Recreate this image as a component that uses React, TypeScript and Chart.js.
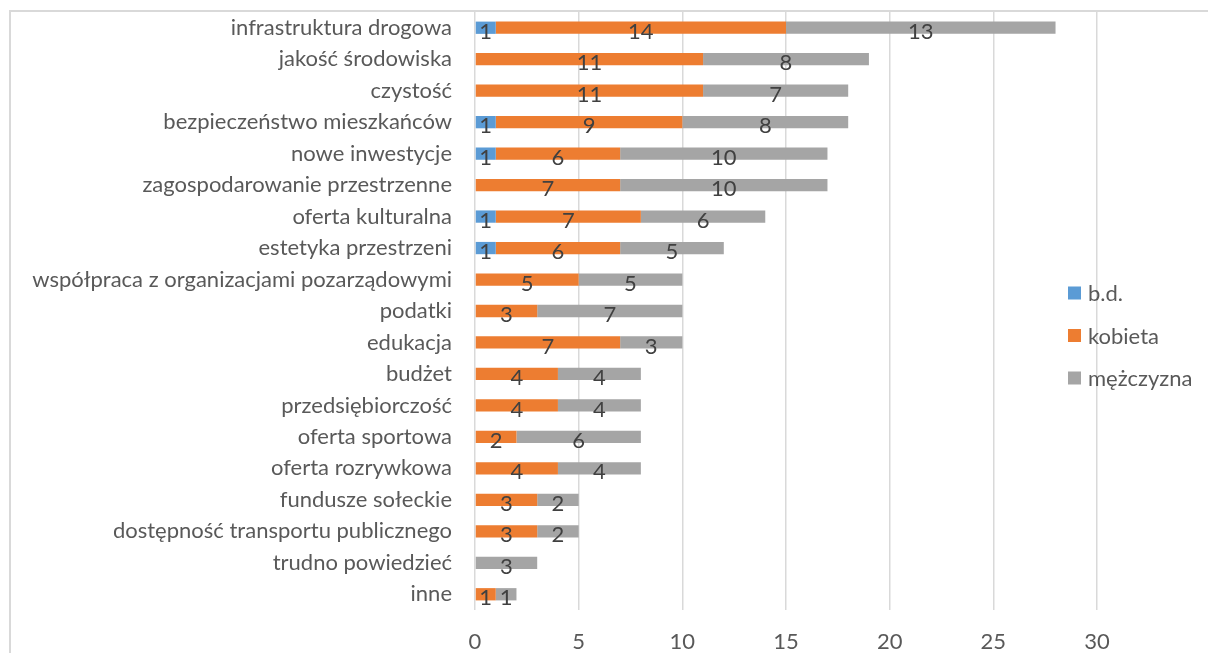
import React, { useEffect, useRef } from "react";
import { Chart, registerables } from "chart.js";
Chart.register(...registerables);

const categories = [
  "infrastruktura drogowa",
  "jakość środowiska",
  "czystość",
  "bezpieczeństwo mieszkańców",
  "nowe inwestycje",
  "zagospodarowanie przestrzenne",
  "oferta kulturalna",
  "estetyka przestrzeni",
  "współpraca z organizacjami pozarządowymi",
  "podatki",
  "edukacja",
  "budżet",
  "przedsiębiorczość",
  "oferta sportowa",
  "oferta rozrywkowa",
  "fundusze sołeckie",
  "dostępność transportu publicznego",
  "trudno powiedzieć",
  "inne",
];
const bdValues = [1, 0, 0, 1, 1, 0, 1, 1, 0, 0, 0, 0, 0, 0, 0, 0, 0, 0, 0];
const kobietaValues = [14, 11, 11, 9, 6, 7, 7, 6, 5, 3, 7, 4, 4, 2, 4, 3, 3, 0, 1];
const mezczyznaValues = [13, 8, 7, 8, 10, 10, 6, 5, 5, 7, 3, 4, 4, 6, 4, 2, 2, 3, 1];
const seriesNames = ["b.d.", "kobieta", "mężczyzna"];
const seriesColors = ["#5B9BD5", "#ED7D31", "#A5A5A5"];
const xMin = 0;
const xMax = 30;
const xStep = 5;

const FONT = "Lato";
const FONT_SIZE = 22;

const labelPlugin = {
  id: "barLabels",
  afterDatasetsDraw(chart: any) {
    const ctx = chart.ctx;
    ctx.save();
    ctx.font = `${FONT_SIZE}px ${FONT}`;
    ctx.fillStyle = "#404040";
    ctx.textAlign = "center";
    ctx.textBaseline = "middle";
    chart.data.datasets.forEach((ds: any, di: number) => {
      const meta = chart.getDatasetMeta(di);
      meta.data.forEach((el: any, i: number) => {
        const v = ds.data[i];
        if (!v) return;
        const p = el.getProps(["x", "base", "y"], true);
        ctx.fillText(String(v), (p.x + p.base) / 2, p.y + 4);
      });
    });
    ctx.restore();
  },
};

const legendPlugin = {
  id: "sideLegend",
  afterDraw(chart: any) {
    const ctx = chart.ctx;
    const x0 = 1068;
    const y0 = 293;
    const gap = 42.5;
    const sq = 13;
    ctx.save();
    ctx.font = `${FONT_SIZE}px ${FONT}`;
    ctx.textAlign = "left";
    ctx.textBaseline = "middle";
    chart.data.datasets.forEach((ds: any, i: number) => {
      const y = y0 + i * gap;
      ctx.fillStyle = ds.backgroundColor;
      ctx.fillRect(x0, y - sq / 2, sq, sq);
      ctx.fillStyle = "#595959";
      ctx.fillText(ds.label, x0 + 20, y + 1);
    });
    ctx.restore();
  },
};

export default function App() {
  const ref = useRef<HTMLCanvasElement>(null);
  useEffect(() => {
    if (!ref.current) return;
    const values = [bdValues, kobietaValues, mezczyznaValues];
    const chart = new Chart(ref.current, {
      type: "bar",
      data: {
        labels: categories,
        datasets: seriesNames.map((name, i) => ({
          label: name,
          data: values[i],
          backgroundColor: seriesColors[i],
          borderWidth: 0,
          categoryPercentage: 1,
          barPercentage: 0.39,
        })),
      },
      options: {
        indexAxis: "y",
        responsive: false,
        animation: false,
        layout: { padding: { left: 0, right: 111, top: 12, bottom: 0 } },
        plugins: {
          legend: { display: false },
          tooltip: { enabled: false },
          title: { display: false },
        },
        scales: {
          x: {
            stacked: true,
            min: xMin,
            max: xMax,
            ticks: {
              stepSize: xStep,
              color: "#595959",
              font: { family: FONT, size: FONT_SIZE },
              padding: 19,
            },
            grid: { color: "#d9d9d9", lineWidth: 1.5, drawTicks: false },
            border: { display: false },
            afterFit: (s: any) => {
              s.height = 43;
              s.paddingLeft = 0;
              s.paddingRight = 0;
            },
          },
          y: {
            stacked: true,
            ticks: {
              autoSkip: false,
              color: "#595959",
              font: { family: FONT, size: FONT_SIZE },
              padding: 23,
            },
            grid: { display: false, drawTicks: false },
            border: { display: false },
            afterFit: (s: any) => {
              s.width = 475;
              s.paddingTop = 0;
              s.paddingBottom = 0;
            },
          },
        },
      },
      plugins: [labelPlugin, legendPlugin],
    });
    return () => chart.destroy();
  }, []);

  return (
    <div
      style={{
        position: "fixed",
        left: 0,
        top: 0,
        width: 1208,
        height: 653,
        overflow: "hidden",
        background: "#ffffff",
      }}
    >
      <div
        style={{
          position: "absolute",
          left: 9,
          top: 10,
          width: 1400,
          height: 900,
          borderLeft: "2px solid #d9d9d9",
          borderTop: "2px solid #d9d9d9",
        }}
      />
      <canvas
        ref={ref}
        width={1208}
        height={653}
        style={{ position: "absolute", left: 0, top: 0 }}
      />
    </div>
  );
}
